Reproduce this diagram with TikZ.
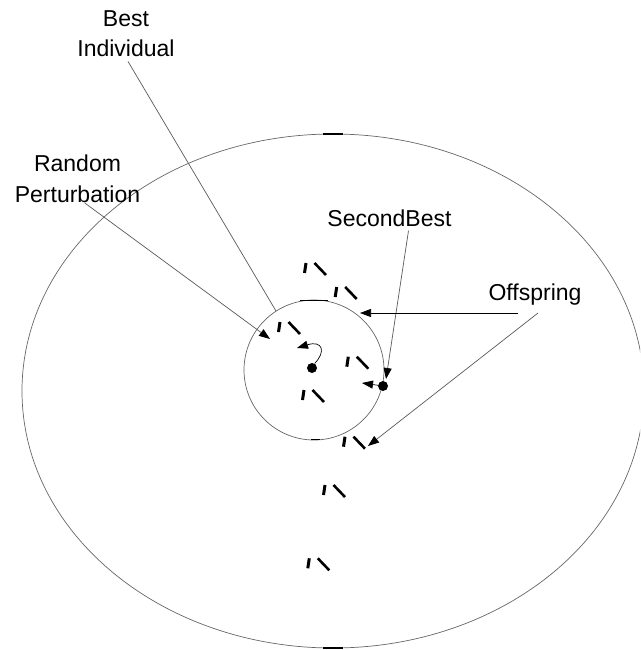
\documentclass[tikz,border=0pt]{standalone}
\usepackage{fontspec}
\setmainfont{Liberation Sans}
\usetikzlibrary{arrows.meta, positioning}

\begin{document}
\begin{tikzpicture}[
    x=1pt, y=-1pt,
    lbl/.style={font=\fontsize{23}{30.5}\selectfont, align=center, inner sep=0pt},
    dot/.style={circle, fill=black, inner sep=0pt, minimum size=10pt},
    rim/.style={draw=black!60, line width=0.7pt},
    pole/.style={draw=black, line width=1.2pt},
    leader/.style={draw=black!65, line width=0.7pt},
    arrow/.style={leader, -{Triangle[length=11pt, width=8pt, color=black]}},
    indiv/.pic={
        \draw[line width=3pt] (0,0) -- (-1.5,10);
        \draw[line width=2.6pt] (8.5,0) -- (20,12);
    },
]
\useasboundingbox (0,0) rectangle (640,650);
\clip (0,0) rectangle (640,650);

% Search space and neighbourhood
\draw[rim] (333,391) ellipse [x radius=311, y radius=257];
\draw[rim] (314,370) circle [radius=70];
\draw[pole] (323,134) -- (343,134);
\draw[pole] (323,648) -- (343,648);
\draw[pole] (300,300.5) -- (328,300.5);
\draw[pole] (311,439.5) -- (320,439.5);

% Offspring
\foreach \px/\py in {306/263, 336.7/287, 280/322, 348.3/356.7,
                     304/390, 345/436.7, 325/485, 309.3/558.3}
    \pic at (\px,\py) {indiv};

% Individuals
\node[dot] (best) at (312,368) {};
\node[dot] (second) at (383,386) {};
\coordinate (pert-tip) at (297,348);
\coordinate (move-tip) at (362,383);
\draw[arrow, draw=black] (best.60) .. controls (326,352) and (323,340) .. (pert-tip);
\draw[arrow, draw=black] (second) -- (move-tip);

% Labels
\node[lbl, anchor=north] (bestlbl) at (126,10) {Best\\Individual};
\node[lbl, anchor=north] (randlbl) at (77.5,155) {Random\\Perturbation};
\node[lbl, anchor=base] (sblbl) at (389.5,226) {SecondBest};
\node[lbl, anchor=base] (offlbl) at (535,300) {Offspring};

% Leader lines
\coordinate (bi-tip) at (276,311);
\coordinate (rp-tip) at (270,339);
\coordinate (sb-tip) at (386,379);
\coordinate (off-tip1) at (360,313);
\coordinate (off-tip2) at (368,446);
\draw[leader] ([xshift=2pt, yshift=-4.5pt]bestlbl.south) -- (bi-tip);
\draw[arrow] ([xshift=7pt]randlbl.south) -- (rp-tip);
\draw[arrow] ([xshift=19pt, yshift=-4.7pt]sblbl.base) -- (sb-tip);
\draw[arrow, draw=black] ([xshift=-17pt, yshift=-13pt]offlbl.base) -- (off-tip1);
\draw[arrow] ([xshift=3pt, yshift=-13pt]offlbl.base) -- (off-tip2);

\end{tikzpicture}
\end{document}
